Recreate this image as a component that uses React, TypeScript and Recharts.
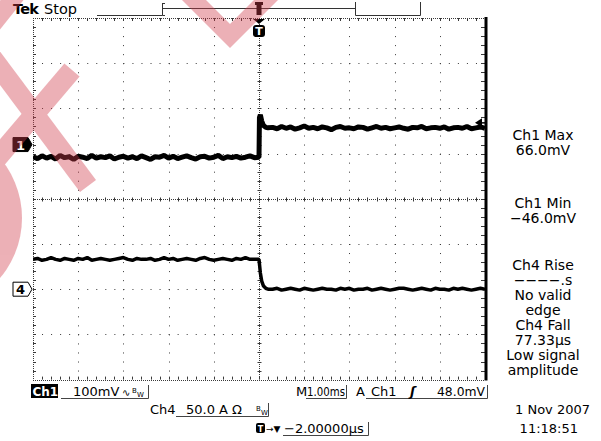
import { LineChart, Line, XAxis, YAxis, ReferenceDot } from 'recharts';

// time base: 1.00 ms/div, trigger at centre
const TIME_MS = [
  -5.0, -4.9, -4.8, -4.7, -4.6, -4.5, -4.4, -4.3, -4.2, -4.1,
  -4.0, -3.9, -3.8, -3.7, -3.6, -3.5, -3.4, -3.3, -3.2, -3.1,
  -3.0, -2.9, -2.8, -2.7, -2.6, -2.5, -2.4, -2.3, -2.2, -2.1,
  -2.0, -1.9, -1.8, -1.7, -1.6, -1.5, -1.4, -1.3, -1.2, -1.1,
  -1.0, -0.9, -0.8, -0.7, -0.6, -0.5, -0.4, -0.3, -0.2, -0.1,
  0, 0.01, 0.03, 0.06, 0.1, 0.15, 0.2,
  0.3, 0.4, 0.5, 0.6, 0.7, 0.8, 0.9, 1.0, 1.1, 1.2,
  1.3, 1.4, 1.5, 1.6, 1.7, 1.8, 1.9, 2.0, 2.1, 2.2,
  2.3, 2.4, 2.5, 2.6, 2.7, 2.8, 2.9, 3.0, 3.1, 3.2,
  3.3, 3.4, 3.5, 3.6, 3.7, 3.8, 3.9, 4.0, 4.1, 4.2,
  4.3, 4.4, 4.5, 4.6, 4.7, 4.8, 4.9, 5.0,
];

// Ch1, mV (100 mV/div)
const CH1_MV = [
  -27, -31, -25, -30, -26, -32, -24, -29, -27, -33,
  -26, -28, -31, -24, -30, -27, -29, -25, -32, -28,
  -26, -30, -27, -31, -25, -29, -33, -27, -28, -24,
  -30, -26, -31, -28, -25, -29, -32, -27, -26, -30,
  -28, -24, -31, -27, -29, -26, -30, -28, -25, -29,
  -28, 60, 66, 52, 42, 38, 37,
  38, 35, 40, 36, 39, 34, 37, 41, 36, 38,
  35, 39, 37, 33, 38, 40, 36, 37, 35, 39,
  38, 34, 37, 40, 36, 38, 35, 37, 39, 36,
  34, 38, 37, 40, 35, 37, 38, 36, 39, 34,
  37, 38, 36, 40, 35, 37, 39, 36,
];

// Ch4, A (50 A/div)
const CH4_A = [
  33, 34, 32, 33, 35, 33, 32, 34, 33, 32,
  34, 33, 35, 32, 33, 34, 33, 32, 33, 34,
  35, 33, 32, 34, 33, 33, 34, 32, 33, 35,
  33, 34, 32, 33, 34, 33, 32, 34, 35, 33,
  32, 33, 34, 33, 32, 34, 33, 35, 33, 33,
  33, 28, 18, 9, 3.5, 1, 0,
  0, 1, -1, 0, 1, 0, -1, 1, 0, -1,
  0, 1, 0, 0, -1, 1, 0, 1, -1, 0,
  0, 1, -1, 0, 1, 0, -1, 0, 1, 1,
  0, -1, 0, 1, 0, -1, 1, 0, 0, -1,
  1, 0, 1, 0, -1, 0, 1, 0,
];

const TIME_DOMAIN = [-5, 5];
const CH1_DOMAIN = [-520, 280];
const CH4_DOMAIN = [-100, 300];
const TRIGGER_MV = 48;

const MEASUREMENTS = [
  ['Ch1 Max', '66.0mV'],
  ['Ch1 Min', '\u221246.0mV'],
  ['Ch4 Rise', '\u2212\u2212\u2212\u2212.s', 'No valid', 'edge'],
  ['Ch4 Fall', '77.33\u00b5s', 'Low signal', 'amplitude'],
];

const data = TIME_MS.map((t, i) => ({ t, ch1: CH1_MV[i], ch4: CH4_A[i] }));

const W = 601;
const H = 441;
const LEFT = 33;
const TOP = 18;
const DIV = 45.2;
const RIGHT = LEFT + 10 * DIV;
const BOTTOM = TOP + 8 * DIV;
const MINOR = DIV / 5;
const FONT = '"DejaVu Sans", Verdana, sans-serif';
const PINK = '#d23c4b';

const px = (v: number) => Math.round(v) + 0.5;

function Graticule() {
  const els: any[] = [];
  const grid = '#3a3a3a';
  for (let i = 1; i < 10; i++) {
    if (i === 5) continue;
    const x = px(LEFT + i * DIV);
    els.push(<line key={'v' + i} x1={x} x2={x} y1={TOP} y2={BOTTOM} stroke={grid} strokeDasharray={`1 ${MINOR - 1}`} />);
  }
  for (let j = 1; j < 8; j++) {
    if (j === 4) continue;
    const y = px(TOP + j * DIV);
    els.push(<line key={'h' + j} y1={y} y2={y} x1={LEFT} x2={RIGHT} stroke={grid} strokeDasharray={`1 ${MINOR - 1}`} />);
  }
  const cx = px(LEFT + 5 * DIV);
  const cy = px(TOP + 4 * DIV);
  els.push(<line key="cx" x1={cx} x2={cx} y1={TOP} y2={BOTTOM} stroke={grid} strokeDasharray="1 1" />);
  els.push(<line key="cy" y1={cy} y2={cy} x1={LEFT} x2={RIGHT} stroke={grid} strokeDasharray="1 1" />);
  els.push(<line key="et" y1={px(TOP)} y2={px(TOP)} x1={LEFT} x2={RIGHT} stroke={grid} strokeDasharray="1 1" />);
  els.push(<line key="eb" y1={px(BOTTOM)} y2={px(BOTTOM)} x1={LEFT} x2={RIGHT} stroke={grid} strokeDasharray="1 1" />);
  els.push(<line key="el" x1={px(LEFT)} x2={px(LEFT)} y1={TOP} y2={BOTTOM} stroke={grid} strokeDasharray="1 1" />);
  for (let k = 1; k < 50; k++) {
    const x = px(LEFT + k * MINOR);
    els.push(<line key={'tt' + k} x1={x} x2={x} y1={TOP} y2={TOP + 3} stroke={grid} />);
    els.push(<line key={'tb' + k} x1={x} x2={x} y1={BOTTOM - 3} y2={BOTTOM} stroke={grid} />);
    els.push(<line key={'tc' + k} x1={x} x2={x} y1={cy - 2} y2={cy + 2} stroke={grid} />);
  }
  for (let k = 1; k < 40; k++) {
    const y = px(TOP + k * MINOR);
    els.push(<line key={'tl' + k} y1={y} y2={y} x1={LEFT} x2={LEFT + 3} stroke={grid} />);
    els.push(<line key={'tr' + k} y1={y} y2={y} x1={RIGHT - 4} x2={RIGHT} stroke={grid} />);
    els.push(<line key={'tv' + k} y1={y} y2={y} x1={cx - 2} x2={cx + 2} stroke={grid} />);
  }
  els.push(<line key="rb" x1={RIGHT + 1} x2={RIGHT + 1} y1={TOP - 1} y2={BOTTOM + 1} stroke="#000" strokeWidth={3} />);
  return (
    <svg width={W} height={H} style={{ position: 'absolute', left: 0, top: 0 }}>
      {els}
    </svg>
  );
}

function ChannelMarker(props: any) {
  const { cx, cy, label, filled } = props;
  return (
    <g>
      <path
        d={`M${cx - 20},${cy - 7} H${cx - 5} L${cx - 1},${cy} L${cx - 5},${cy + 7} H${cx - 20} Z`}
        fill={filled ? '#000' : '#fff'}
        stroke="#000"
        strokeWidth={1}
      />
      <text x={cx - 12.5} y={cy + 5} textAnchor="middle" fontSize={13} fontWeight="bold" fontFamily={FONT} fill={filled ? '#fff' : '#000'}>
        {label}
      </text>
    </g>
  );
}

function TriggerLevel(props: any) {
  const { cx, cy } = props;
  return (
    <g>
      <path d={`M${cx - 10},${cy} L${cx - 3},${cy - 4.5} L${cx - 3},${cy + 4.5} Z`} fill="#000" />
      <line x1={cx - 3} x2={cx} y1={cy} y2={cy} stroke="#000" strokeWidth={1.5} />
    </g>
  );
}

function TriggerPos(props: any) {
  const { cx, cy } = props;
  return (
    <g>
      <path d={`M${cx - 6},${cy + 1} L${cx + 6},${cy + 1} L${cx},${cy + 6} Z`} fill="#000" />
      <rect x={cx - 6} y={cy + 7} width={12} height={12} rx={3} fill="#000" />
      <text x={cx} y={cy + 17} textAnchor="middle" fontSize={11} fontWeight="bold" fontFamily={FONT} fill="#fff">
        T
      </text>
    </g>
  );
}

function Overlay() {
  const groupTops = [135, 203, 265, 325];
  const lineStep = 15;
  const bar = '#444';
  return (
    <svg width={W} height={H} fontFamily={FONT} style={{ position: 'absolute', left: 0, top: 0, pointerEvents: 'none' }}>
      {/* header */}
      <text x={13} y={14} fontSize={14.5} fontWeight="bold" letterSpacing={-0.8}>Tek</text>
      <text x={44} y={14} fontSize={14.5}>Stop</text>
      <path d="M97,15.5 H162.5 M162.5,3 V15.5 M162.5,3.5 H165 M162.5,15.5 H165 M162.5,8.5 H355.5 M355.5,2 V15.5 H420.5 V2" stroke="#333" fill="none" />
      <path d="M255,2 H263 V5 H261.5 V15 H256.5 V5 H255 Z" fill="#000" />

      {/* measurements */}
      {MEASUREMENTS.map((lines, g) =>
        lines.map((s, k) => (
          <text key={g + '-' + k} x={543} y={groupTops[g] + k * lineStep + 5} fontSize={14} textAnchor="middle">
            {s}
          </text>
        )),
      )}

      {/* bottom readouts */}
      <rect x={31} y={384} width={27} height={14} fill="#000" />
      <text x={32.5} y={396} fontSize={12} fontWeight="bold" fill="#fff">Ch1</text>
      <path d="M61,398.5 H148.5 V385" stroke={bar} fill="none" />
      <text x={73} y={396} fontSize={13}>100mV</text>
      <text x={122} y={396} fontSize={10}>{'\u223f'}</text>
      <text x={132} y={393} fontSize={7}>B</text>
      <text x={137} y={397} fontSize={7}>W</text>

      <text x={296} y={396} fontSize={13}>M</text>
      <path d="M306,398.5 H346.5 V385" stroke={bar} fill="none" />
      <text x={307} y={396} fontSize={13} textLength={38} lengthAdjust="spacingAndGlyphs">1.00ms</text>

      <text x={356} y={396} fontSize={13}>A</text>
      <path d="M366,398.5 H487.5 V385" stroke={bar} fill="none" />
      <text x={371} y={396} fontSize={13}>Ch1</text>
      <text x={410} y={396} fontSize={13} fontStyle="italic" fontWeight="bold">{'\u0283'}</text>
      <text x={437} y={396} fontSize={13} textLength={48} lengthAdjust="spacingAndGlyphs">48.0mV</text>

      <text x={150} y={414} fontSize={13}>Ch4</text>
      <path d="M176,416.5 H268.5 V403" stroke={bar} fill="none" />
      <text x={186} y={414} fontSize={13}>50.0 A {'\u03a9'}</text>
      <text x={256} y={411} fontSize={7}>B</text>
      <text x={261} y={415} fontSize={7}>W</text>

      <rect x={256} y={423} width={9} height={10} rx={2} fill="#000" />
      <text x={260.5} y={431.5} fontSize={8} fontWeight="bold" fill="#fff" textAnchor="middle">T</text>
      <text x={266} y={432} fontSize={9}>{'\u2192\u25bc'}</text>
      <path d="M283,435.5 H368.5 V422" stroke={bar} fill="none" />
      <text x={284} y={433} fontSize={13}>{'\u2212'}2.00000{'\u00b5'}s</text>

      <text x={590} y={414} fontSize={13} textAnchor="end">1 Nov 2007</text>
      <text x={578} y={433} fontSize={13} textAnchor="end">11:18:51</text>

      {/* watermark */}
      <g fill={PINK} stroke={PINK} opacity={0.4}>
        <polygon points="182,0 230,48 278,0 254,0 230,24 206,0" stroke="none" />
        <line x1={-30} y1={28} x2={88} y2={186} strokeWidth={20} />
        <line x1={-30} y1={190} x2={72} y2={70} strokeWidth={20} />
        <line x1={20} y1={-10} x2={-16} y2={35} strokeWidth={18} />
        <circle cx={-71} cy={218} r={93} stroke="none" />
      </g>
    </svg>
  );
}

export default function App() {
  return (
    <div style={{ position: 'absolute', left: 0, top: 0, width: W, height: H, background: '#fff', fontFamily: FONT }}>
      <Graticule />
      <div style={{ position: 'absolute', left: 0, top: 0 }}>
        <LineChart
          width={W}
          height={H}
          data={data}
          margin={{ top: TOP, right: W - RIGHT, bottom: H - BOTTOM, left: LEFT }}
        >
          <XAxis dataKey="t" type="number" domain={TIME_DOMAIN} hide allowDataOverflow />
          <YAxis yAxisId="ch1" type="number" domain={CH1_DOMAIN} hide allowDataOverflow />
          <YAxis yAxisId="ch4" type="number" domain={CH4_DOMAIN} hide allowDataOverflow />
          <Line yAxisId="ch4" dataKey="ch4" type="linear" stroke="#000" strokeWidth={3.5} strokeLinejoin="bevel" dot={false} isAnimationActive={false} />
          <Line yAxisId="ch1" dataKey="ch1" type="linear" stroke="#000" strokeWidth={5} strokeLinejoin="bevel" dot={false} isAnimationActive={false} />
          <ReferenceDot yAxisId="ch1" x={-5} y={0} ifOverflow="visible" shape={(p: any) => <ChannelMarker {...p} label="1" filled />} />
          <ReferenceDot yAxisId="ch4" x={-5} y={0} ifOverflow="visible" shape={(p: any) => <ChannelMarker {...p} label="4" />} />
          <ReferenceDot yAxisId="ch1" x={5} y={TRIGGER_MV} ifOverflow="visible" shape={(p: any) => <TriggerLevel {...p} />} />
          <ReferenceDot yAxisId="ch1" x={0} y={CH1_DOMAIN[1]} ifOverflow="visible" shape={(p: any) => <TriggerPos {...p} />} />
        </LineChart>
      </div>
      <Overlay />
    </div>
  );
}
